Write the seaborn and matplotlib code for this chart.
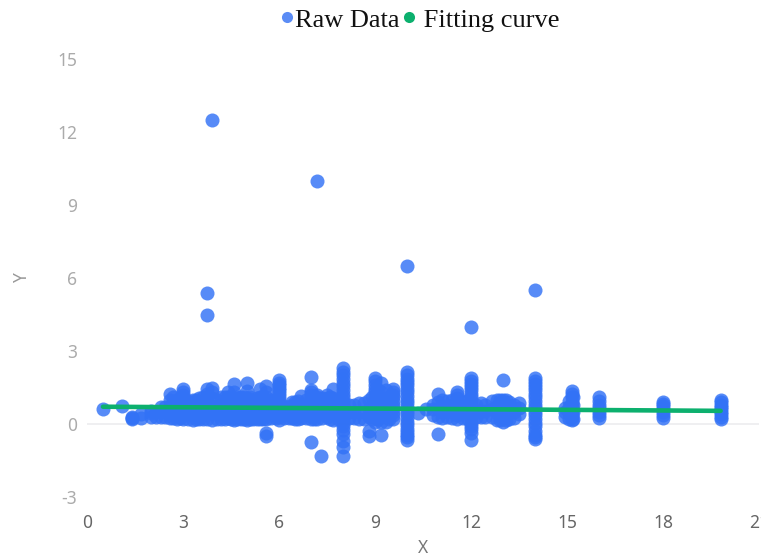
import pandas as pd
import matplotlib
matplotlib.use('Agg')
import matplotlib.pyplot as plt
from matplotlib.lines import Line2D
import seaborn as sns

# y values, one list per x position
raw_columns = {
    0.5: [0.6], 1.1: [0.72], 1.4: [0.25, 0.27, 0.22], 1.7: [0.25, 0.4],
    2.0: [0.3, 0.45, 0.55], 2.3: [0.3, 0.5, 0.7], 2.6: [0.25, 0.5, 0.75, 1.0, 1.23],
    2.8: [0.2, 0.5, 0.8, 1.0], 3.0: [0.2, 0.45, 0.7, 0.95, 1.2, 1.45], 3.3: [0.15, 0.4, 0.7, 1.0],
    3.5: [0.2, 0.45, 0.75, 1.05], 3.74: [0.2, 0.5, 0.8, 1.1, 1.25, 1.45, 4.5, 5.4],
    3.9: [0.15, 0.45, 0.75, 1.05, 1.3, 1.5, 12.5], 4.2: [0.2, 0.5, 0.8, 1.1],
    4.4: [0.25, 0.55, 0.85, 1.1, 1.3], 4.6: [0.15, 0.45, 0.75, 1.05, 1.3, 1.65],
    4.8: [0.2, 0.5, 0.8, 1.1], 5.0: [0.15, 0.45, 0.75, 1.05, 1.35, 1.68],
    5.2: [0.2, 0.5, 0.8, 1.0], 5.4: [0.2, 0.5, 0.8, 1.1, 1.45],
    5.6: [-0.5, -0.35, 0.2, 0.5, 0.8, 1.1, 1.3, 1.55], 6.0: [0.15, 0.4, 0.65, 0.9, 1.15, 1.4, 1.6, 1.8],
    6.3: [0.25, 0.5, 0.75], 6.5: [0.2, 0.45, 0.7, 0.9], 6.7: [0.25, 0.5, 0.8, 1.15],
    7.0: [-0.75, 0.2, 0.45, 0.7, 0.95, 1.2, 1.4, 1.95], 7.2: [0.2, 0.5, 0.8, 1.1, 1.2, 10.0],
    7.3: [-1.3], 7.5: [0.3, 0.55, 0.8, 1.05, 1.2], 7.7: [0.15, 0.45, 0.75, 1.05, 1.45],
    8.0: [-1.3, -0.95, -0.7, -0.4, -0.1, 0.2, 0.5, 0.8, 1.1, 1.4, 1.7, 2.0, 2.3],
    8.2: [0.25, 0.5, 0.8], 8.5: [0.2, 0.5, 0.85], 8.8: [-0.5, -0.3, 0.3, 0.6, 1.0],
    9.0: [0.1, 0.4, 0.7, 1.0, 1.3, 1.75, 1.9], 9.2: [-0.45, 0.1, 0.4, 0.7, 1.0, 1.3, 1.7],
    9.35: [0.1, 0.4, 0.7, 1.0, 1.4], 9.56: [0.2, 0.5, 0.8, 1.1, 1.3, 1.45],
    10.0: [-0.65, -0.45, -0.2, 0.1, 0.4, 0.7, 1.0, 1.3, 1.6, 1.85, 2.15, 6.5],
    10.35: [0.45], 10.6: [0.6], 10.97: [-0.4, 0.3, 0.6, 0.9, 1.25],
    11.25: [0.3, 0.6, 0.95], 11.56: [0.2, 0.5, 0.8, 1.05, 1.3],
    12.0: [-0.65, -0.35, -0.1, 0.2, 0.5, 0.8, 1.1, 1.4, 1.65, 1.9, 4.0],
    12.3: [0.3, 0.55, 0.85], 12.65: [0.3, 0.6, 0.95], 12.8: [0.15, 0.45, 0.75, 1.0],
    13.0: [0.1, 0.4, 0.7, 1.0, 1.8], 13.2: [0.2, 0.5, 0.9], 13.5: [0.4, 0.65, 0.85],
    14.0: [-0.6, -0.45, -0.1, 0.2, 0.5, 0.8, 1.1, 1.4, 1.65, 1.9, 5.5],
    14.95: [0.3, 0.5, 0.65], 15.15: [0.15, 0.4, 0.65, 0.9, 1.35],
    16.0: [0.25, 0.5, 0.8, 1.1], 18.0: [0.25, 0.5, 0.75, 0.9],
    19.8: [0.22, 0.4, 0.6, 0.8, 0.98],
}
# the dense part of the band between the columns above
band_columns = {
    2.15: [0.3, 0.5], 2.45: [0.3, 0.5, 0.7], 2.7: [0.25, 0.5, 0.8, 1.1], 2.9: [0.25, 0.5, 0.8, 1.05],
    3.15: [0.2, 0.45, 0.7, 0.95], 3.4: [0.2, 0.45, 0.7, 1.0], 3.62: [0.2, 0.5, 0.8, 1.1],
    4.05: [0.2, 0.45, 0.7, 1.0], 4.3: [0.2, 0.5, 0.8, 1.1], 4.5: [0.2, 0.5, 0.8, 1.1],
    4.7: [0.2, 0.5, 0.8, 1.1], 4.9: [0.2, 0.5, 0.8, 1.1], 5.1: [0.2, 0.5, 0.8, 1.1],
    5.3: [0.2, 0.5, 0.8, 1.05], 5.5: [0.2, 0.5, 0.8, 1.1], 5.75: [0.25, 0.5, 0.75, 1.0],
    5.9: [0.25, 0.5, 0.75, 1.0], 6.15: [0.25, 0.5, 0.7], 6.4: [0.25, 0.5, 0.75, 0.9], 6.6: [0.2, 0.45, 0.7, 0.95],
    6.85: [0.25, 0.5, 0.75, 1.0], 7.1: [0.2, 0.5, 0.8, 1.1], 7.35: [0.25, 0.5, 0.8, 1.05], 7.6: [0.2, 0.5, 0.8, 1.1],
    7.85: [0.2, 0.5, 0.8, 1.0], 8.35: [0.25, 0.5, 0.8], 8.65: [0.2, 0.5, 0.85], 8.9: [0.2, 0.5, 0.8, 1.1],
    9.1: [0.2, 0.5, 0.8, 1.1, 1.4], 9.45: [0.2, 0.5, 0.8, 1.1], 10.8: [0.35, 0.6, 0.8], 11.1: [0.25, 0.5, 0.75, 1.0],
    11.4: [0.25, 0.5, 0.8, 1.0], 11.75: [0.25, 0.5, 0.75, 0.9], 11.9: [0.2, 0.5, 0.8, 1.0], 12.15: [0.3, 0.55, 0.8],
    12.45: [0.3, 0.55, 0.8], 12.9: [0.15, 0.4, 0.7, 1.0], 13.1: [0.15, 0.45, 0.75, 1.0], 13.35: [0.25, 0.5, 0.8],
    15.05: [0.2, 0.45, 0.7, 0.95], 15.2: [0.2, 0.5, 0.8, 1.1],
}
# extra points inside the solid vertical bars
bar_columns = {
    3.0: [1.08, 1.32], 6.0: [0.28, 0.52, 0.78, 1.02, 1.28, 1.5, 1.7], 7.0: [0.33, 0.58, 0.83, 1.08, 1.3],
    8.0: [-0.25, 0.05, 0.35, 0.65, 0.95, 1.25, 1.55, 1.85, 2.15],
    9.0: [0.25, 0.55, 0.85, 1.15, 1.45, 1.6], 9.56: [0.35, 0.65, 0.95, 1.2],
    10.0: [-0.55, -0.32, -0.05, 0.25, 0.55, 0.85, 1.15, 1.45, 1.72, 2.0],
    11.56: [0.35, 0.65, 0.92, 1.18], 12.0: [-0.22, 0.05, 0.35, 0.65, 0.95, 1.25, 1.52, 1.78],
    14.0: [-0.52, -0.28, 0.05, 0.35, 0.65, 0.95, 1.25, 1.52, 1.78],
    15.15: [0.28, 0.52, 0.78, 1.1, 1.22], 16.0: [0.38, 0.65, 0.95],
    18.0: [0.38, 0.62, 0.82], 19.8: [0.3, 0.5, 0.7, 0.9],
}
fit_x = [0.5, 19.8]
fit_y = [0.71, 0.54]
x_ticks = [0, 3, 6, 9, 12, 15, 18, 21]
y_ticks = [-3, 0, 3, 6, 9, 12, 15]

BLUE = '#3272F6'
GREEN = '#0CB06E'

points = [(x, y) for cols in (raw_columns, band_columns, bar_columns) for x, ys in cols.items() for y in ys]
df = pd.DataFrame(points, columns=['X', 'Y'])
fit_df = pd.DataFrame({'X': fit_x, 'Y': fit_y})

sns.set_theme(style='white')
plt.rcParams['font.family'] = ['Noto Sans', 'DejaVu Sans']
plt.rcParams['axes.unicode_minus'] = False

fig = plt.figure(figsize=(7.61, 5.56), dpi=100)
ax = fig.add_axes([87 / 761, 59 / 556, 672 / 761, 438 / 556])

ax.axhline(0, color='#ECECEF', lw=1.2, zorder=1)
sns.scatterplot(data=df, x='X', y='Y', s=102, color=BLUE, alpha=0.82, linewidth=0, ax=ax, zorder=2, clip_on=False)
sns.lineplot(data=fit_df, x='X', y='Y', color=GREEN, lw=3.3, ax=ax, zorder=3)

ax.set_xlim(0, 21)
ax.set_ylim(-3, 15)
ax.set_xticks(x_ticks)
ax.set_yticks(y_ticks)
ax.tick_params(axis='x', length=0, pad=12, labelsize=12.5, labelcolor='#666666')
ax.tick_params(axis='y', length=0, pad=7, labelsize=12.5, labelcolor='#ABABAB')
sns.despine(ax=ax, left=True, bottom=True)

ax.set_xlabel('X', fontsize=12.5, color='#777777')
ax.set_ylabel('Y', fontsize=12.5, color='#999999')
ax.xaxis.set_label_coords(336 / 672, -42 / 438)
ax.yaxis.set_label_coords(-56 / 672, 0.5)

handles = [
    Line2D([], [], ls='', marker='o', ms=8, mew=0, color='#5B8CF5', label='Raw Data'),
    Line2D([], [], ls='', marker='o', ms=8, mew=0, color=GREEN, label=' Fitting curve'),
]
fig.legend(handles=handles, ncol=2, loc='center', bbox_to_anchor=(420 / 761, 1 - 20 / 556), frameon=False,
           prop={'family': 'Liberation Serif', 'size': 19}, labelcolor='#111111',
           handlelength=0.5, handletextpad=0.05, columnspacing=0.1, borderpad=0)

fig.savefig('out.png', dpi=100)
